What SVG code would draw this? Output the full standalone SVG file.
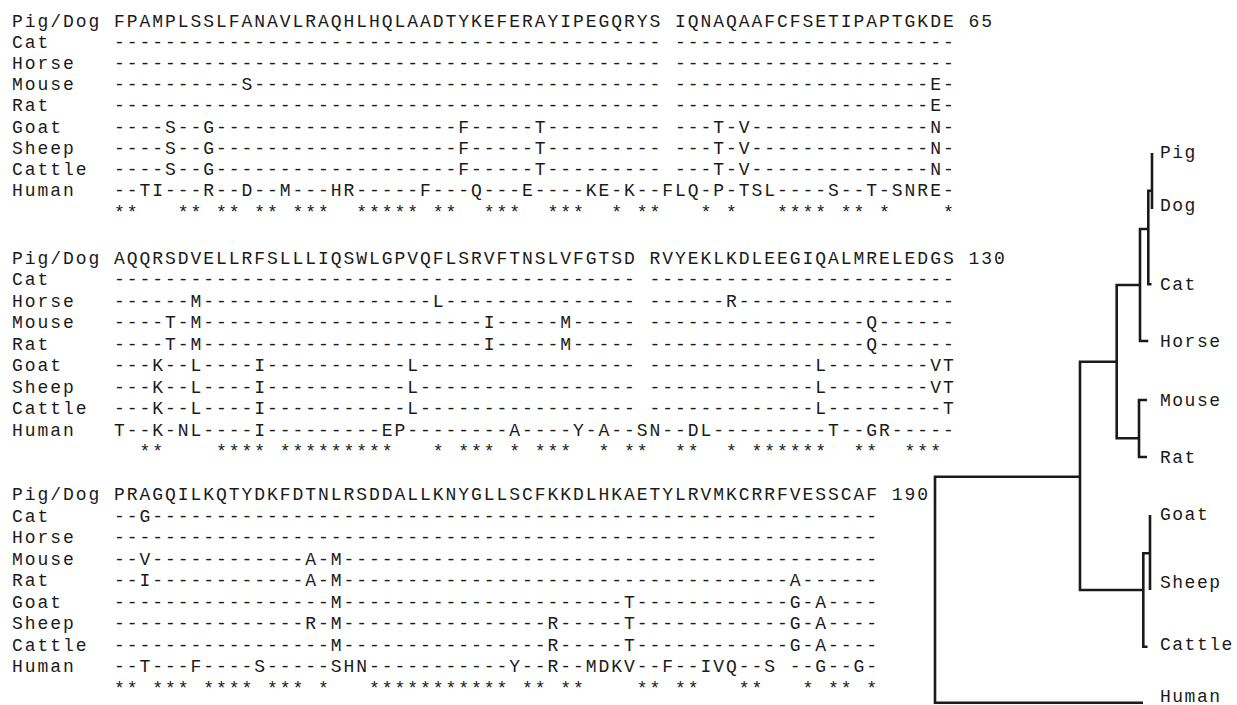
<svg xmlns="http://www.w3.org/2000/svg" width="1237" height="705" viewBox="0 0 1237 705" xml:space="preserve">
<style>
.t{font-family:"Liberation Mono","Courier New",monospace;font-size:18px;letter-spacing:1.95px;fill:#1a1a1a;white-space:pre}
.lb{font-family:"Liberation Mono","Courier New",monospace;font-size:18px;letter-spacing:1.5px;fill:#1a1a1a;white-space:pre}
.br{fill:none;stroke:#1a1a1a;stroke-width:2.6;stroke-linejoin:miter;stroke-linecap:butt}
</style>
<rect width="1237" height="705" fill="#ffffff"/>
<g id="alignment-block-1">
<text class="t" x="12" y="26.5">Pig/Dog FPAMPLSSLFANAVLRAQHLHQLAADTYKEFERAYIPEGQRYS IQNAQAAFCFSETIPAPTGKDE 65</text>
<text class="t" x="12" y="47.7">Cat     ------------------------------------------- ----------------------</text>
<text class="t" x="12" y="68.9">Horse   ------------------------------------------- ----------------------</text>
<text class="t" x="12" y="90.1">Mouse   ----------S-------------------------------- --------------------E-</text>
<text class="t" x="12" y="111.3">Rat     ------------------------------------------- --------------------E-</text>
<text class="t" x="12" y="132.5">Goat    ----S--G-------------------F-----T--------- ---T-V--------------N-</text>
<text class="t" x="12" y="153.7">Sheep   ----S--G-------------------F-----T--------- ---T-V--------------N-</text>
<text class="t" x="12" y="174.9">Cattle  ----S--G-------------------F-----T--------- ---T-V--------------N-</text>
<text class="t" x="12" y="196.1">Human   --TI---R--D--M---HR-----F---Q---E----KE-K--FLQ-P-TSL----S--T-SNRE-</text>
<text class="t" x="12" y="218">        **   ** ** ** ***  ***** **  ***  ***  * **   * *   **** ** *    *</text>
</g>
<g id="alignment-block-2">
<text class="t" x="12" y="263.5">Pig/Dog AQQRSDVELLRFSLLLIQSWLGPVQFLSRVFTNSLVFGTSD RVYEKLKDLEEGIQALMRELEDGS 130</text>
<text class="t" x="12" y="285">Cat     ----------------------------------------- ------------------------</text>
<text class="t" x="12" y="306.5">Horse   ------M------------------L--------------- ------R-----------------</text>
<text class="t" x="12" y="328">Mouse   ----T-M----------------------I-----M----- -----------------Q------</text>
<text class="t" x="12" y="349.5">Rat     ----T-M----------------------I-----M----- -----------------Q------</text>
<text class="t" x="12" y="371">Goat    ---K--L----I-----------L----------------- -------------L--------VT</text>
<text class="t" x="12" y="392.5">Sheep   ---K--L----I-----------L----------------- -------------L--------VT</text>
<text class="t" x="12" y="414">Cattle  ---K--L----I-----------L----------------- -------------L---------T</text>
<text class="t" x="12" y="435.5">Human   T--K-NL----I---------EP--------A----Y-A--SN--DL---------T--GR-----</text>
<text class="t" x="12" y="457">          **    **** *********   * *** * ***  * **  **  * ******  **  ***</text>
</g>
<g id="alignment-block-3">
<text class="t" x="12" y="500">Pig/Dog PRAGQILKQTYDKFDTNLRSDDALLKNYGLLSCFKKDLHKAETYLRVMKCRRFVESSCAF 190</text>
<text class="t" x="12" y="521.5">Cat     --G---------------------------------------------------------</text>
<text class="t" x="12" y="543">Horse   ------------------------------------------------------------</text>
<text class="t" x="12" y="564.5">Mouse   --V------------A-M------------------------------------------</text>
<text class="t" x="12" y="586">Rat     --I------------A-M-----------------------------------A------</text>
<text class="t" x="12" y="607.5">Goat    -----------------M----------------------T------------G-A----</text>
<text class="t" x="12" y="629">Sheep   ---------------R-M----------------R-----T------------G-A----</text>
<text class="t" x="12" y="650.5">Cattle  -----------------M----------------R-----T------------G-A----</text>
<text class="t" x="12" y="672">Human   --T---F----S-----SHN-----------Y--R--MDKV--F--IVQ--S --G--G-</text>
<text class="t" x="12" y="693.5">        ** *** **** *** *   *********** ** **    ** **   **   * ** *</text>
</g>
<g id="connectors">
<path class="br" d="M1080,476.7 H935 V702.7 H1143"/>
<path class="br" d="M1116.7,361.7 H1080 V590 H1143.3"/>
<path class="br" d="M1140,285 H1116.7 V438.3 H1139"/>
<path class="br" d="M1147,400 H1139 V457 H1147"/>
<path class="br" d="M1148.3,229 H1140 V341 H1148.3"/>
<path class="br" d="M1152,190.7 H1148.3 V284.3 H1151.5"/>
<path class="br" d="M1152,153 V209"/>
<path class="br" d="M1150,553.3 H1143.3 V646.7 H1147.5"/>
<path class="br" d="M1150,515 V590"/>
</g>
<g id="tree-labels">
<g id="leaf-pig"><text class="lb" x="1160" y="158">Pig</text></g>
<g id="leaf-dog"><text class="lb" x="1160" y="211">Dog</text></g>
<g id="leaf-cat"><text class="lb" x="1160" y="290">Cat</text></g>
<g id="leaf-horse"><text class="lb" x="1160" y="347">Horse</text></g>
<g id="leaf-mouse"><text class="lb" x="1160" y="406">Mouse</text></g>
<g id="leaf-rat"><text class="lb" x="1160" y="463">Rat</text></g>
<g id="leaf-goat"><text class="lb" x="1160" y="520">Goat</text></g>
<g id="leaf-sheep"><text class="lb" x="1160" y="588">Sheep</text></g>
<g id="leaf-cattle"><text class="lb" x="1160" y="650">Cattle</text></g>
<g id="leaf-human"><text class="lb" x="1160" y="701.5">Human</text></g>
</g>
</svg>
